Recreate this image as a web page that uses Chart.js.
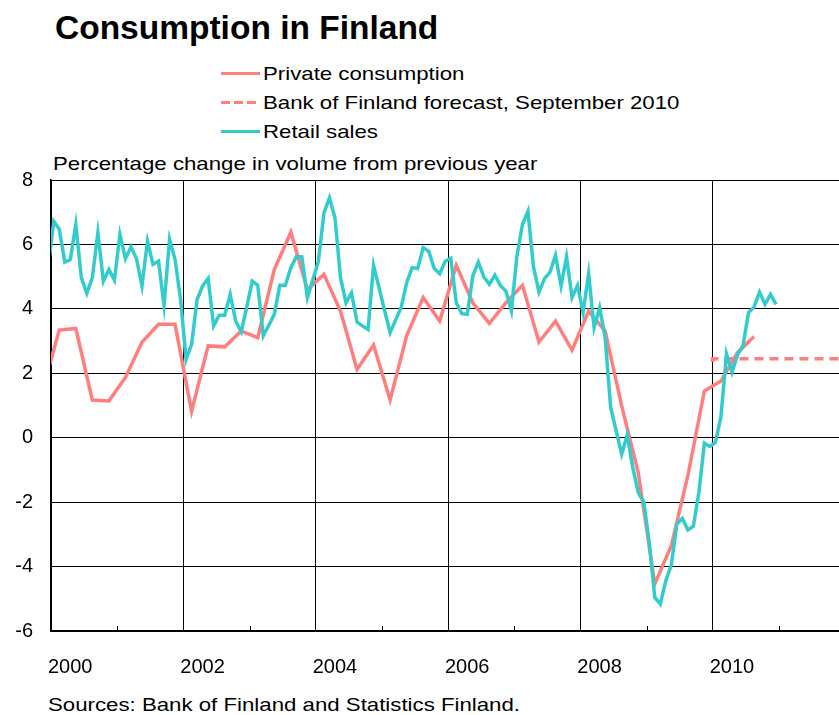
<!DOCTYPE html>
<html>
<head>
<meta charset="utf-8">
<script src="https://cdn.jsdelivr.net/npm/chart.js@4.4.1/dist/chart.umd.min.js"></script>
<style>
  html, body { margin: 0; padding: 0; background: #fff; overflow: hidden; }
  body { width: 839px; height: 715px; position: relative; font-family: "Liberation Sans", Arial, sans-serif; color: #000; }
  #grafica { position: absolute; left: 0; top: 0; }
  .txt { position: absolute; white-space: nowrap; line-height: 1; transform-origin: left center; }
  #titulo { left: 55px; top: 11px; font-size: 33.5px; font-weight: bold; }
  #ytitulo { left: 53px; top: 154px; font-size: 19px; transform: scaleX(1.17); }
  #fuente { left: 48px; top: 695px; font-size: 19px; transform: scaleX(1.17); }
  #leyenda { position: absolute; left: 221px; top: 59px; }
  .item { height: 29px; display: flex; align-items: center; font-size: 19px; white-space: nowrap; }
  .item span { display: inline-block; transform: scaleX(1.17); transform-origin: left center; }
  .muestra { width: 39px; height: 3px; margin-right: 3px; }
</style>
</head>
<body>
<div id="titulo" class="txt">Consumption in Finland</div>
<div id="leyenda"></div>
<div id="ytitulo" class="txt">Percentage change in volume from previous year</div>
<div id="fuente" class="txt">Sources: Bank of Finland and Statistics Finland.</div>
<canvas id="grafica" width="845" height="715"></canvas>
<script>
// Nombres de las series
var nombreConsumo = 'Private consumption';
var nombrePrevision = 'Bank of Finland forecast, September 2010';
var nombreVentas = 'Retail sales';

// Consumo privado, trimestral, % anual (desde 1999T4)
var consumoInicio = 1999.75;
var consumoTrim = [1.5,
  3.34, 3.39, 1.17, 1.14,
  1.87, 2.96, 3.52, 3.52,
  0.82, 2.85, 2.82, 3.31,
  3.11, 5.22, 6.38, 4.60,
  5.07, 3.93, 2.12, 2.88,
  1.17, 3.16, 4.35, 3.62,
  5.35, 4.19, 3.55, 4.19,
  4.73, 2.97, 3.62, 2.72,
  3.93, 3.31, 0.99, -1.08,
  -4.54, -3.35, -1.18, 1.45,
  1.76, 2.64, 3.14];

// Prevision del Banco de Finlandia (anual)
var previsionAnios = [2010, 2011];
var previsionValores = [2.35, 2.45];

// Ventas minoristas, mensual, % anual (desde dic 1999)
var ventasInicio = 1999 + 11 / 12;
var ventasMes = [5.3,
  6.72, 6.47, 5.45, 5.53, 6.62, 4.97, 4.48, 4.97, 6.36, 4.86, 5.22, 4.89,
  6.31, 5.56, 5.92, 5.56, 4.71, 6.10, 5.38, 5.48, 4.11, 6.16, 5.53, 4.30,
  2.43, 2.90, 4.29, 4.71, 4.94, 3.47, 3.80, 3.80, 4.45, 3.62, 3.29, 4.05,
  4.86, 4.73, 3.16, 3.49, 3.83, 4.73, 4.73, 5.28, 5.62, 5.61, 4.35, 4.91,
  5.48, 6.98, 7.45, 6.83, 4.97, 4.19, 4.50, 3.59, 3.47, 3.36, 5.35, 4.65,
  3.95, 3.26, 3.65, 4.04, 4.81, 5.28, 5.25, 5.90, 5.79, 5.25, 5.09, 5.48,
  5.57, 4.19, 3.85, 3.83, 5.02, 5.45, 4.99, 4.76, 5.05, 4.73, 4.55, 3.93,
  5.64, 6.62, 7.03, 5.31, 4.52, 4.94, 5.14, 5.66, 4.71, 5.61, 4.35, 4.73,
  3.88, 5.09, 3.42, 4.04, 3.11, 0.94, 0.21, -0.51, 0.08, -0.92, -1.70, -1.99,
  -3.25, -4.96, -5.16, -4.44, -3.95, -2.68, -2.51, -2.86, -2.75, -1.70, -0.17, -0.27,
  -0.15, 0.65, 2.60, 2.03, 2.57, 2.86, 3.88, 4.06, 4.52, 4.14, 4.45, 4.14];

// Ejes
var ejeXMin = 2000, ejeXMax = 2012;
var ejeYMin = -6, ejeYMax = 8, ejeYPaso = 2;

var rojo = '#ff7f7f';
var turquesa = '#33cccc';

// Puntos a mitad de cada periodo
var datosConsumo = consumoTrim.map(function (v, i) {
  return { x: consumoInicio + (i + 0.5) / 4, y: v };
});
var datosVentas = ventasMes.map(function (v, i) {
  return { x: ventasInicio + (i + 0.5) / 12, y: v };
});
var datosPrevision = previsionAnios.map(function (a, i) {
  return { x: a, y: previsionValores[i] };
});
datosPrevision.push({ x: previsionAnios[previsionAnios.length - 1] + 1, y: previsionValores[previsionValores.length - 1] });

// Leyenda en HTML
var leyenda = document.getElementById('leyenda');
[[nombreConsumo, 'solid'], [nombrePrevision, 'dash'], [nombreVentas, 'solid2']].forEach(function (it) {
  var fila = document.createElement('div');
  fila.className = 'item';
  var m = document.createElement('div');
  m.className = 'muestra';
  if (it[1] === 'dash') {
    m.style.background = 'repeating-linear-gradient(to right, ' + rojo + ' 0 9px, transparent 9px 13px)';
  } else {
    m.style.background = it[1] === 'solid' ? rojo : turquesa;
  }
  var s = document.createElement('span');
  s.textContent = it[0];
  fila.appendChild(m);
  fila.appendChild(s);
  leyenda.appendChild(fila);
});

// Marcas menores en los anios impares, dentro del area
var marcasMenores = {
  id: 'marcasMenores',
  afterDraw: function (chart) {
    var x = chart.scales.x, area = chart.chartArea, ctx = chart.ctx;
    ctx.save();
    ctx.strokeStyle = '#000';
    ctx.lineWidth = 1;
    for (var a = ejeXMin + 1; a < ejeXMax; a += 2) {
      var px = Math.round(x.getPixelForValue(a)) + 0.5;
      ctx.beginPath();
      ctx.moveTo(px, area.bottom);
      ctx.lineTo(px, area.bottom - 5);
      ctx.stroke();
    }
    ctx.restore();
  }
};

function inicializarGrafica() {
  var ctx = document.getElementById('grafica').getContext('2d');
  new Chart(ctx, {
    type: 'line',
    data: {
      datasets: [{
        label: nombreVentas,
        data: datosVentas,
        borderColor: turquesa,
        borderWidth: 3.5,
        pointRadius: 0,
        tension: 0,
        fill: false
      }, {
        label: nombrePrevision,
        data: datosPrevision,
        borderColor: rojo,
        borderWidth: 3.5,
        borderDash: [9, 6],
        stepped: 'after',
        pointRadius: 0,
        fill: false
      }, {
        label: nombreConsumo,
        data: datosConsumo,
        borderColor: rojo,
        borderWidth: 3.5,
        pointRadius: 0,
        tension: 0,
        fill: false
      }]
    },
    options: {
      responsive: false,
      animation: false,
      devicePixelRatio: 1,
      layout: { padding: { top: 180, left: 0, right: 0, bottom: 0 } },
      scales: {
        x: {
          type: 'linear',
          min: ejeXMin,
          max: ejeXMax,
          afterFit: function (s) { s.height = 84; s.paddingLeft = 0; s.paddingRight = 0; },
          afterBuildTicks: function (s) {
            var t = [];
            for (var a = ejeXMin; a <= ejeXMax; a++) t.push({ value: a });
            s.ticks = t;
          },
          ticks: {
            autoSkip: false,
            maxRotation: 0,
            align: 'start',
            labelOffset: -3,
            padding: 24,
            color: '#000',
            font: { family: '"Liberation Sans", Arial, sans-serif', size: 20 },
            callback: function (v) { return (v % 2 === 0 && v < ejeXMax) ? String(v) : ''; }
          },
          grid: {
            drawTicks: false,
            lineWidth: 1,
            color: function (c) { return (c.tick && c.tick.value % 2 === 0) ? '#000' : 'rgba(0,0,0,0)'; }
          },
          border: { display: true, color: '#000', width: 1.5 }
        },
        y: {
          min: ejeYMin,
          max: ejeYMax,
          afterFit: function (s) { s.width = 51; },
          ticks: {
            stepSize: ejeYPaso,
            padding: 18,
            color: '#000',
            font: { family: '"Liberation Sans", Arial, sans-serif', size: 20 }
          },
          grid: { drawTicks: false, color: '#000', lineWidth: 1 },
          border: { display: true, color: '#000', width: 1.5 }
        }
      },
      plugins: {
        legend: { display: false },
        title: { display: false },
        tooltip: { enabled: false }
      }
    },
    plugins: [marcasMenores]
  });
}

inicializarGrafica();
</script>
</body>
</html>
